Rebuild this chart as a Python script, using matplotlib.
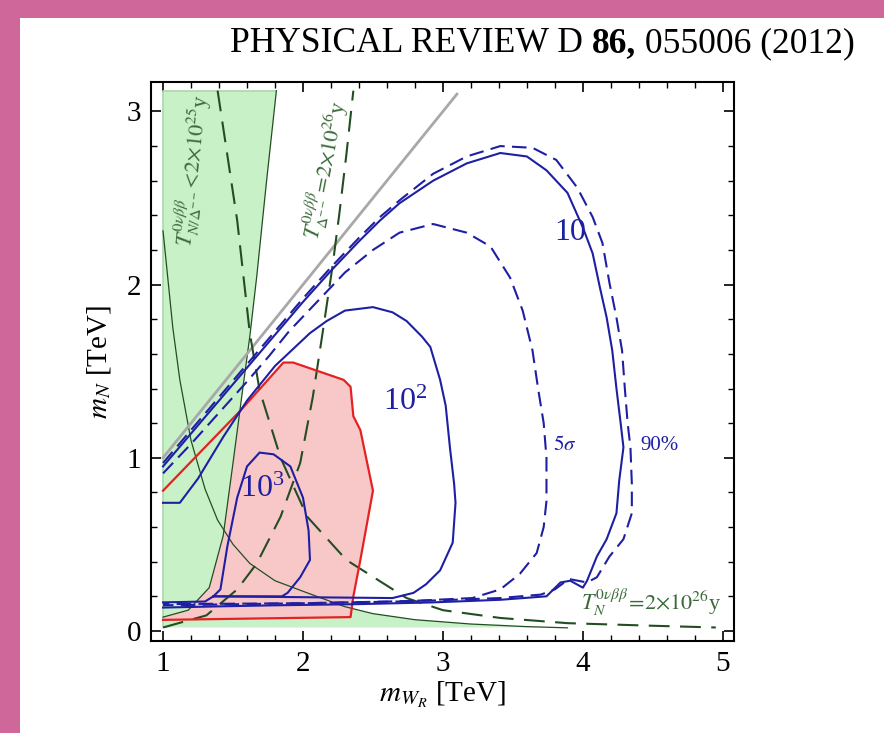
import matplotlib
matplotlib.use('Agg')
import matplotlib.pyplot as plt
from matplotlib.patches import Rectangle
from matplotlib.ticker import MultipleLocator

plt.rcParams['font.family'] = ['Liberation Serif', 'DejaVu Serif']
plt.rcParams['mathtext.fontset'] = 'stix'

# --- excluded region T_{N/Delta} < 2e25 y ---
excl_x = [1.0, 1.0, 1.81, 1.74, 1.67, 1.62, 1.57, 1.50, 1.43, 1.33, 1.18, 1.0]
excl_y = [0.08, 3.12, 3.12, 2.60, 2.05, 1.70, 1.40, 0.97, 0.55, 0.25, 0.12, 0.08]
hyp_x = [1.0, 1.07, 1.12, 1.2, 1.3, 1.39, 1.5, 1.62, 1.8, 2.03, 2.3, 2.5, 2.8, 3.2, 3.6, 3.89]
hyp_y = [2.31, 1.75, 1.45, 1.10, 0.82, 0.64, 0.50, 0.39, 0.29, 0.22, 0.14, 0.10, 0.065, 0.04, 0.025, 0.018]

# --- half-life contours ---
tn26_x = [1.39, 1.53, 1.62, 1.69, 1.84, 2.03, 2.31, 2.74, 3.0, 3.41, 3.89, 4.5, 4.95]
tn26_y = [3.12, 2.37, 1.72, 1.39, 1.00, 0.66, 0.41, 0.19, 0.12, 0.075, 0.045, 0.03, 0.02]
td26_x = [1.0, 1.31, 1.53, 1.67, 1.84, 1.98, 2.07, 2.14, 2.21, 2.26, 2.31, 2.36]
td26_y = [0.02, 0.09, 0.24, 0.39, 0.66, 0.97, 1.35, 1.72, 2.10, 2.41, 2.75, 3.12]

# --- event-number contours ---
c10_x = [1.0, 1.2, 1.4, 1.6, 1.8, 2.0, 2.2, 2.4, 2.55, 2.69, 2.93, 3.17, 3.41, 3.6, 3.74, 3.89,
         4.0, 4.07, 4.12, 4.17, 4.21, 4.24, 4.27, 4.29, 4.26, 4.24, 4.17, 4.10, 4.03, 4.0, 3.91,
         3.84, 3.74, 3.41, 2.93, 2.4, 1.8, 1.4, 1.0]
c10_y = [0.95, 1.14, 1.33, 1.52, 1.71, 1.90, 2.08, 2.25, 2.37, 2.47, 2.60, 2.70, 2.76, 2.74, 2.66, 2.53,
         2.33, 2.18, 1.99, 1.81, 1.62, 1.40, 1.20, 1.06, 0.87, 0.68, 0.53, 0.43, 0.29, 0.25, 0.29,
         0.28, 0.20, 0.18, 0.165, 0.155, 0.148, 0.142, 0.135]
c90_x = [1.0, 1.2, 1.4, 1.6, 1.8, 2.0, 2.2, 2.4, 2.55, 2.695, 2.93, 3.17, 3.41, 3.64, 3.81, 3.96,
         4.07, 4.14, 4.19, 4.24, 4.28, 4.30, 4.32, 4.34, 4.35, 4.35, 4.29, 4.19, 4.10, 4.03, 3.9,
         3.8, 3.7, 3.41, 2.9, 2.0, 1.0]
c90_y = [0.97, 1.16, 1.35, 1.54, 1.73, 1.92, 2.10, 2.27, 2.39, 2.49, 2.64, 2.74, 2.80, 2.79, 2.72, 2.56,
         2.39, 2.24, 2.01, 1.81, 1.62, 1.40, 1.20, 1.06, 0.85, 0.68, 0.53, 0.43, 0.31, 0.28, 0.30,
         0.24, 0.21, 0.19, 0.175, 0.16, 0.148]
c5s_x = [1.0, 1.2, 1.4, 1.6, 1.76, 1.9, 2.1, 2.3, 2.5, 2.69, 2.93, 3.17, 3.34, 3.48, 3.57, 3.64,
         3.68, 3.72, 3.74, 3.74, 3.72, 3.67, 3.55, 3.41, 3.21, 2.69, 2.0, 1.0]
c5s_y = [0.91, 1.08, 1.26, 1.44, 1.59, 1.73, 1.90, 2.07, 2.20, 2.30, 2.35, 2.30, 2.22, 2.04, 1.85, 1.62,
         1.40, 1.20, 1.00, 0.75, 0.60, 0.45, 0.33, 0.24, 0.19, 0.17, 0.16, 0.155]
c100_x = [1.0, 1.12, 1.25, 1.43, 1.6, 1.8, 2.05, 2.17, 2.3, 2.5, 2.64, 2.74, 2.85, 2.91, 2.98, 3.02,
          3.05, 3.08, 3.09, 3.07, 2.98, 2.88, 2.79, 2.64, 2.0, 1.36, 1.3, 1.0]
c100_y = [0.74, 0.74, 0.88, 1.12, 1.33, 1.53, 1.72, 1.79, 1.85, 1.87, 1.84, 1.79, 1.70, 1.64, 1.45, 1.30,
          1.06, 0.85, 0.74, 0.51, 0.35, 0.27, 0.22, 0.19, 0.195, 0.20, 0.17, 0.165]
c1000_x = [1.36, 1.41, 1.46, 1.53, 1.60, 1.69, 1.79, 1.91, 2.00, 2.04, 2.05, 1.98, 1.89, 1.85, 1.36]
c1000_y = [0.20, 0.24, 0.49, 0.77, 0.95, 1.03, 1.02, 0.95, 0.77, 0.58, 0.41, 0.31, 0.22, 0.20, 0.20]

# --- favoured region (red) ---
red_x = [1.0, 1.55, 1.86, 1.93, 2.29, 2.34, 2.36, 2.41, 2.50, 2.41, 2.36, 2.34, 1.0]
red_y = [0.81, 1.27, 1.55, 1.55, 1.45, 1.41, 1.24, 1.16, 0.81, 0.41, 0.20, 0.08, 0.064]

diag = [1.0, 3.1]

BLUE = '#1f1fa3'
DKGREEN = '#234d23'
TXTGREEN = '#3a6a3a'
GREENFILL = '#c8f1c8'

fig = plt.figure(figsize=(8.84, 7.33), dpi=100, facecolor='#d0679a')
fig.patches.append(Rectangle((20 / 884, 0), 1, 1 - 18 / 733, transform=fig.transFigure,
                             facecolor='white', edgecolor='none', zorder=-5))

# journal header: regular / bold / regular pieces laid out right to left
r = fig.canvas.get_renderer()
hy = 1 - 44 / 733
t3 = fig.text(855 / 884, hy, ' 055006 (2012)', ha='right', va='center', fontsize=25.6)
x3 = t3.get_window_extent(r).x0 / 884
t2 = fig.text(x3, hy, '86,', ha='right', va='center', fontsize=25.6, fontweight='bold')
x2 = t2.get_window_extent(r).x0 / 884
fig.text(x2, hy, 'PHYSICAL REVIEW D ', ha='right', va='center', fontsize=25.6)

ax = fig.add_axes([151 / 884, 92 / 733, 583 / 884, 559 / 733])

# bottom green band under the pink region, left green wedge over it
ax.fill(hyp_x + [3.89, 1.0], hyp_y + [0.02, 0.02], color=GREENFILL, lw=0, zorder=0.5)
ax.fill(red_x, red_y, color='#f8c8c8', lw=0, zorder=1)
ax.fill(excl_x, excl_y, color=GREENFILL, lw=0, zorder=2)
ax.plot([1.0, 1.0, 1.81], [0.02, 3.12, 3.12], color='#a9d9a9', lw=1.2, zorder=2)
ax.plot(excl_x[2:], excl_y[2:], color=DKGREEN, lw=0.9, zorder=3)
ax.plot(hyp_x, hyp_y, color=DKGREEN, lw=0.9, zorder=3)

ax.plot(red_x, red_y, color='#e52222', lw=1.6, zorder=4)

ax.plot(diag, diag, color='#a8a8a8', lw=2.0, zorder=3)

ax.plot(tn26_x, tn26_y, color=DKGREEN, lw=1.5, dashes=(10, 5), zorder=3)
ax.plot(td26_x, td26_y, color=DKGREEN, lw=1.5, dashes=(10, 5), zorder=3)

ax.plot(c10_x, c10_y, color=BLUE, lw=1.5, zorder=5)
ax.plot(c90_x, c90_y, color=BLUE, lw=1.5, dashes=(7, 3.5), zorder=5)
ax.plot(c5s_x, c5s_y, color=BLUE, lw=1.5, dashes=(7, 3.5), zorder=5)
ax.plot(c100_x, c100_y, color=BLUE, lw=1.5, zorder=5)
ax.plot(c1000_x, c1000_y, color=BLUE, lw=1.5, zorder=5)

# contour labels
ax.text(3.91, 2.30, '10', color=BLUE, fontsize=23, ha='center', va='center', zorder=6)
ax.text(2.73, 1.32, r'$\mathregular{10^2}$', color=BLUE, fontsize=23, ha='center', va='center', zorder=6)
ax.text(1.71, 0.82, r'$\mathregular{10^3}$', color=BLUE, fontsize=23, ha='center', va='center', zorder=6)
ax.text(3.87, 1.07, r'$5\sigma$', color=BLUE, fontsize=15, ha='center', va='center', zorder=6)
ax.text(4.55, 1.07, '90%', color=BLUE, fontsize=15, ha='center', va='center', zorder=6)

ax.text(1.21, 2.66, r'$T^{0\nu\beta\beta}_{N/\Delta^{--}}\!<\!2{\times}10^{25}$y', color=TXTGREEN,
        fontsize=16, rotation=84, ha='center', va='center', rotation_mode='anchor', zorder=6)
ax.text(2.16, 2.66, r'$T^{0\nu\beta\beta}_{\Delta^{--}}\!=\!2{\times}10^{26}$y', color=TXTGREEN,
        fontsize=16, rotation=79, ha='center', va='center', rotation_mode='anchor', zorder=6)
ax.text(4.49, 0.16, r'$T^{0\nu\beta\beta}_{N}\!=\!2{\times}10^{26}$y', color=TXTGREEN,
        fontsize=16, ha='center', va='center', zorder=6)

ax.set_xlim(0.914, 5.08)
ax.set_ylim(-0.058, 3.17)
ax.xaxis.set_major_locator(MultipleLocator(1))
ax.xaxis.set_minor_locator(MultipleLocator(0.2))
ax.yaxis.set_major_locator(MultipleLocator(1))
ax.yaxis.set_minor_locator(MultipleLocator(0.2))
ax.tick_params(which='both', direction='in', top=True, right=True, labelsize=21, pad=7)
ax.tick_params(which='major', length=7, width=1.2)
ax.tick_params(which='minor', length=4, width=1.0)
for s in ax.spines.values():
    s.set_linewidth(1.5)

ax.set_xlabel(r'$m_{W_R}$ [TeV]', fontsize=21, labelpad=2)
ax.set_ylabel(r'$m_N$ [TeV]', fontsize=21, labelpad=10)

plt.savefig('out.png', dpi=100, facecolor=fig.get_facecolor())
plt.close()
